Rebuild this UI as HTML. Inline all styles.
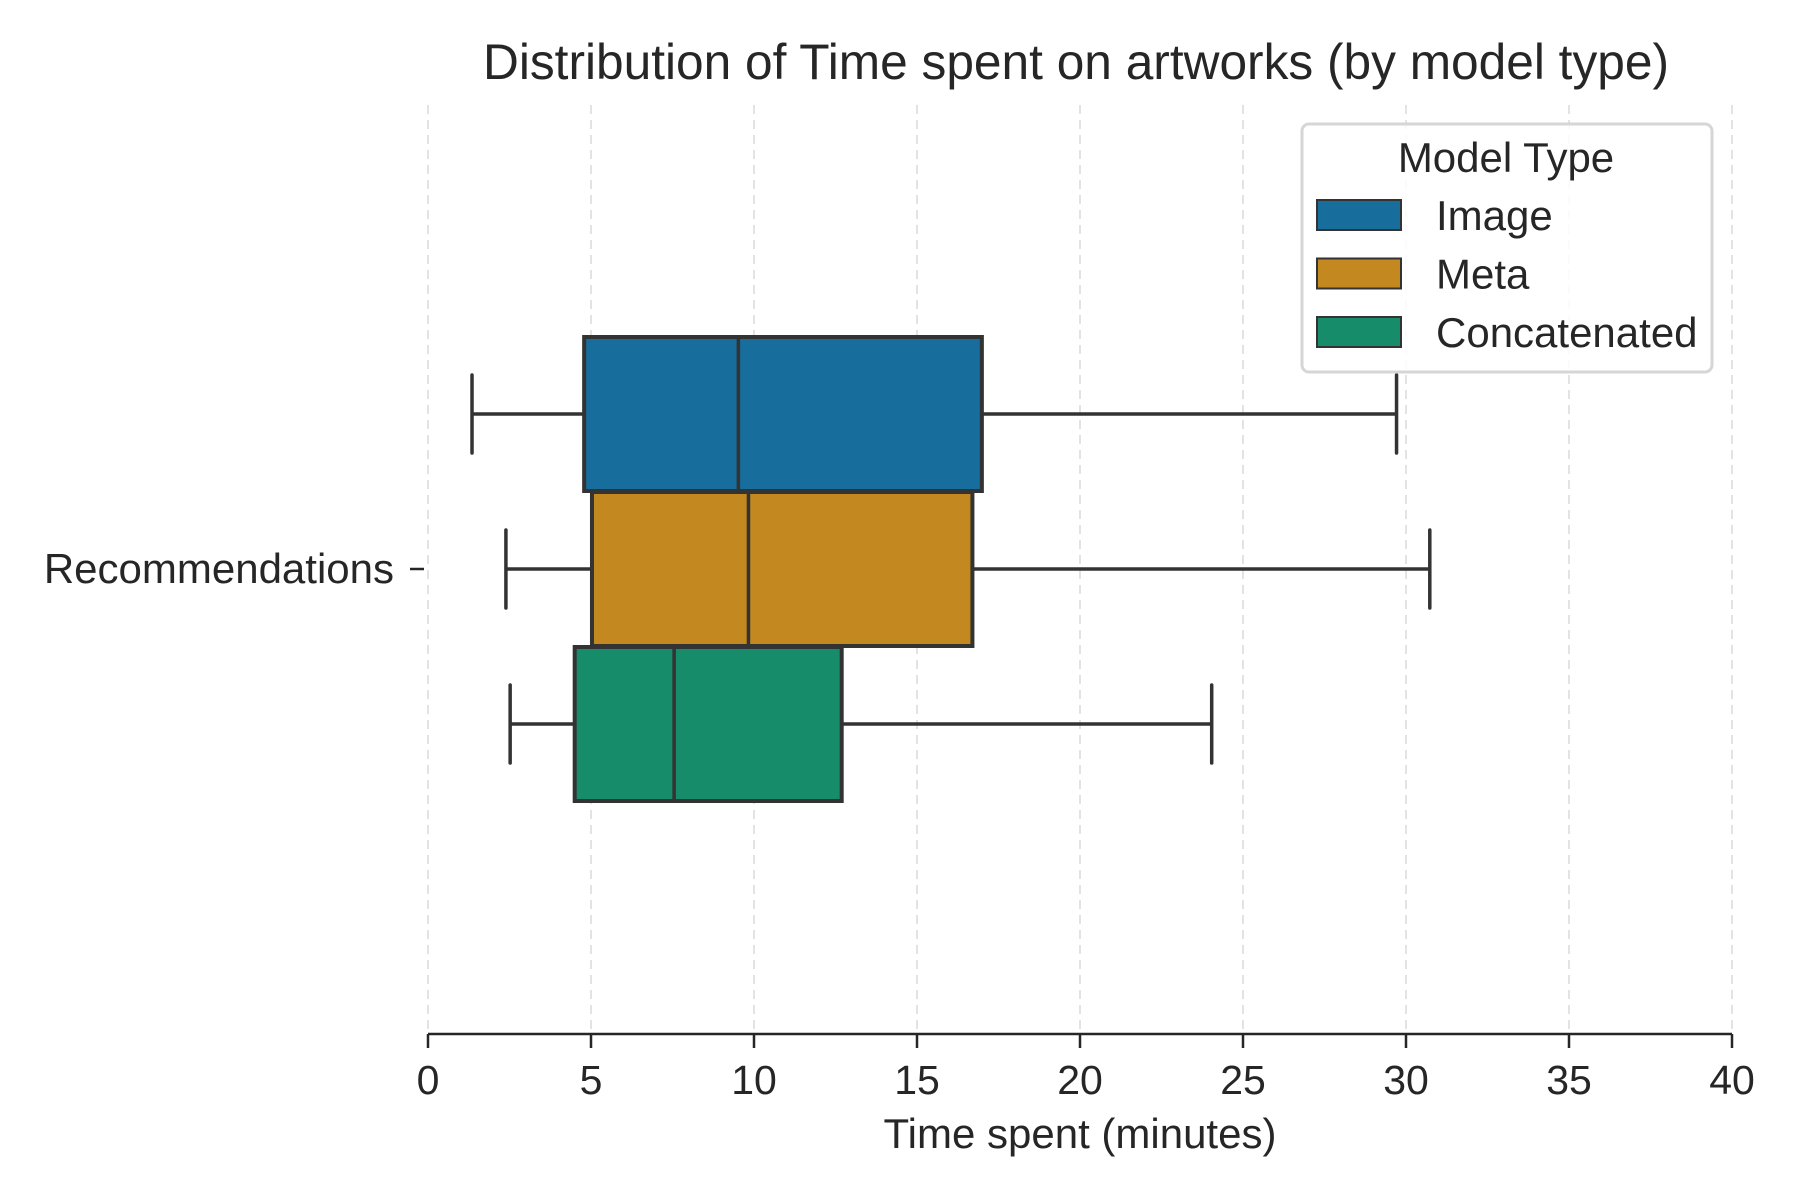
<!DOCTYPE html>
<html><head><meta charset="utf-8"><style>html,body{margin:0;padding:0;background:#fff}svg{display:block}text{font-family:"Liberation Sans",sans-serif;fill:#262626}</style></head>
<body>
<svg id="chart" width="1800" height="1200" viewBox="0 0 1800 1200">
<text x="1076" y="79" font-size="50" text-anchor="middle" textLength="1186" lengthAdjust="spacingAndGlyphs">Distribution of Time spent on artworks (by model type)</text>
<g id="grid"></g>
<g id="boxes"></g>
<g id="xaxis"></g>
<text x="1080" y="1148" font-size="42" text-anchor="middle">Time spent (minutes)</text>
<text x="394" y="583" font-size="42" text-anchor="end">Recommendations</text>
<line x1="410" y1="569" x2="424" y2="569" stroke="#262626" stroke-width="2.5"/>
<g id="legend">
<rect x="1302" y="124" width="410" height="248" rx="7" fill="#fff" fill-opacity="0.85" stroke="#d6d6d6" stroke-width="3"/>
<text x="1506" y="172" font-size="42" text-anchor="middle">Model Type</text>
</g>
</svg>
<script>
const categories = ["Image", "Meta", "Concatenated"];
const colors = ["#176d9c", "#c38820", "#178c6a"];
const mins = [1.35, 2.39, 2.52];
const q1s = [4.79, 5.03, 4.5];
const medians = [9.52, 9.83, 7.55];
const q3s = [16.99, 16.7, 12.69];
const maxs = [29.71, 30.73, 24.04];
const xTicks = [0, 5, 10, 15, 20, 25, 30, 35, 40];

const NS = "http://www.w3.org/2000/svg";
const x0 = 428, x1 = 1732, xMax = 40;
const xs = v => x0 + (v / xMax) * (x1 - x0);
const ys = i => 414 + i * 155;
const halfH = 77, capH = 39, stroke = "#333333";
function mk(tag, attrs, parent) {
  const e = document.createElementNS(NS, tag);
  for (const k in attrs) e.setAttribute(k, attrs[k]);
  parent.appendChild(e);
  return e;
}
const grid = document.getElementById('grid');
const xaxis = document.getElementById('xaxis');
xTicks.forEach(t => {
  const g = mk('line', {x1: xs(t), x2: xs(t), y1: 105, y2: 1034, stroke: '#e3e3e3', 'stroke-width': 2, 'stroke-dasharray': '9,6'}, grid);
  
  
  const tm = mk('line', {x1: xs(t), x2: xs(t), y1: 1034, y2: 1048, stroke: '#262626', 'stroke-width': 2.5}, xaxis);
  
  
  const tl = mk('text', {x: xs(t), y: 1094, 'font-size': 41, 'text-anchor': 'middle'}, xaxis);
  tl.textContent = t;
  
  
});
const ax = mk('line', {x1: x0, x2: x1, y1: 1034, y2: 1034, stroke: '#262626', 'stroke-width': 2.5}, xaxis);



const boxes = document.getElementById('boxes');
const legend = document.getElementById('legend');
categories.forEach((c, i) => {
  const y = ys(i);
  const g = mk('g', {}, boxes);
  
  
  const sw = 3.5;
  [[mins[i], q1s[i]], [q3s[i], maxs[i]]].forEach(([a, b]) => {
    const w = mk('line', {x1: xs(a), x2: xs(b), y1: y, y2: y, stroke: stroke, 'stroke-width': sw}, g);
    
    
  });
  [mins[i], maxs[i]].forEach(v => {
    const cp = mk('line', {x1: xs(v), x2: xs(v), y1: y - capH, y2: y + capH, stroke: stroke, 'stroke-width': sw, 'stroke-linecap': 'round'}, g);
    
    
  });
  const r = mk('rect', {x: xs(q1s[i]), y: y - halfH, width: xs(q3s[i]) - xs(q1s[i]), height: 2 * halfH, fill: colors[i], stroke: stroke, 'stroke-width': 4}, g);
  
  
  const m = mk('line', {x1: xs(medians[i]), x2: xs(medians[i]), y1: y - halfH, y2: y + halfH, stroke: stroke, 'stroke-width': sw}, g);
  
  

  const ly = 200 + i * 58.5;
  const p = mk('rect', {x: 1317, y: ly, width: 84, height: 30, fill: colors[i], stroke: stroke, 'stroke-width': 2}, legend);
  
  
  const t = mk('text', {x: 1436, y: ly + 30, 'font-size': 42}, legend);
  t.textContent = c;
  
  
});
</script>
</body></html>
